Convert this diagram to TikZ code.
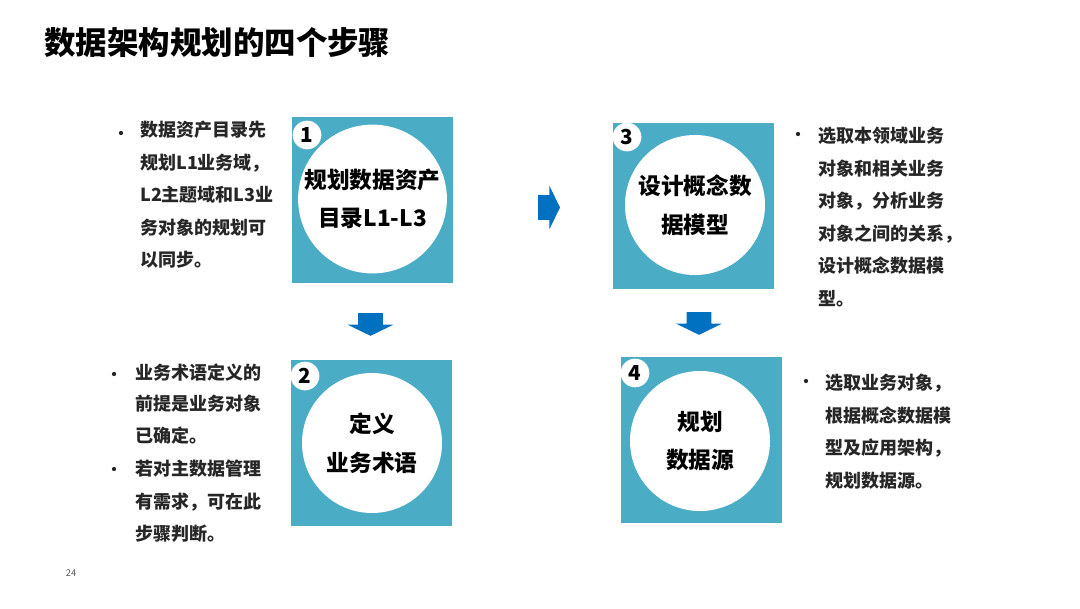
\documentclass[tikz,border=0pt]{standalone}
\usepackage{fontspec}
\setmainfont{Noto Sans CJK SC}
\usetikzlibrary{shapes.arrows}
\definecolor{boxblue}{RGB}{75,172,198}
\definecolor{arrowblue}{RGB}{0,112,192}
\definecolor{txtgray}{RGB}{38,38,38}
\definecolor{pagegray}{RGB}{89,89,89}
\begin{document}
\begin{tikzpicture}[x=0.75pt,y=-0.75pt,
    stepbox/.style={fill=boxblue,minimum width=120.75pt,minimum height=124.5pt,inner sep=0},
    disc/.style={circle,fill=white,minimum size=105pt,inner sep=0,align=center,
      font=\bfseries\fontsize{17}{29}\selectfont,text=black},
    badge/.style={circle,fill=white,minimum size=21.5pt,inner sep=0,
      font=\bfseries\fontsize{15.5}{18}\selectfont,text=black},
    note/.style={anchor=north west,inner sep=0,align=left,text=txtgray,
      font=\bfseries\fontsize{13.5}{24.4}\selectfont},
    dot/.style={circle,fill=txtgray,minimum size=3.2pt,inner sep=0},
    blockarrow/.style={single arrow,fill=arrowblue,inner xsep=0,inner ysep=9pt,
      single arrow tip angle=128}]
  \useasboundingbox (0,0) rectangle (1080,608);
  % title
  \node[anchor=west,inner sep=0,font=\bfseries\fontsize{23.6}{28}\selectfont] (title) at (44,43) {数据架构规划的四个步骤};
  % step boxes
  \node[stepbox] (box1) at (372.5,200) {};
  \node[stepbox] (box2) at (371,442.5) {};
  \node[stepbox] (box3) at (693,206) {};
  \node[stepbox] (box4) at (701.5,440) {};
  % circles with step names
  \node[disc] (c1) at (372.5,199) {规划数据资产\\目录L1-L3};
  \node[disc] (c2) at (372,443) {定义\\业务术语};
  \node[disc] (c3) at (695,205) {设计概念数\\据模型};
  \node[disc] (c4) at (700,441) {规划\\数据源};
  % step numbers
  \node[badge] (n1) at (307,135) {1};
  \node[badge] (n2) at (305,376) {2};
  \node[badge] (n3) at (627,137) {3};
  \node[badge] (n4) at (635,373) {4};
  % arrows
  \node[blockarrow,minimum height=17pt,single arrow head extend=7.9pt,rotate=-90] (a12) at (370.5,321.5) {};
  \node[blockarrow,minimum height=16.5pt,single arrow head extend=7.1pt] (a13) at (546,207.5) {};
  \node[blockarrow,minimum height=17pt,single arrow head extend=7.9pt,rotate=-90] (a34) at (699,320.5) {};
  % notes
  \node[dot] (b1) at (121,133) {};
  \node[note] (t1) at (140,121) {数据资产目录先\\规划L1业务域，\\L2主题域和L3业\\务对象的规划可\\以同步。};
  \node[dot] (b2) at (114,374) {};
  \node[note,font=\bfseries\fontsize{13.5}{23.3}\selectfont] (t2) at (135,364) {业务术语定义的\\前提是业务对象\\已确定。};
  \node[dot] (b3) at (114,469) {};
  \node[note] (t3) at (135,460) {若对主数据管理\\有需求，可在此\\步骤判断。};
  \node[dot] (b4) at (798,134) {};
  \node[note] (t4) at (818,127) {选取本领域业务\\对象和相关业务\\对象，分析业务\\对象之间的关系，\\设计概念数据模\\型。};
  \node[dot] (b5) at (806,381) {};
  \node[note] (t5) at (825,374) {选取业务对象，\\根据概念数据模\\型及应用架构，\\规划数据源。};
  % page number
  \node[inner sep=0,text=pagegray,font=\fontsize{7}{8}\selectfont] (page) at (71,573) {24};
\end{tikzpicture}
\end{document}
